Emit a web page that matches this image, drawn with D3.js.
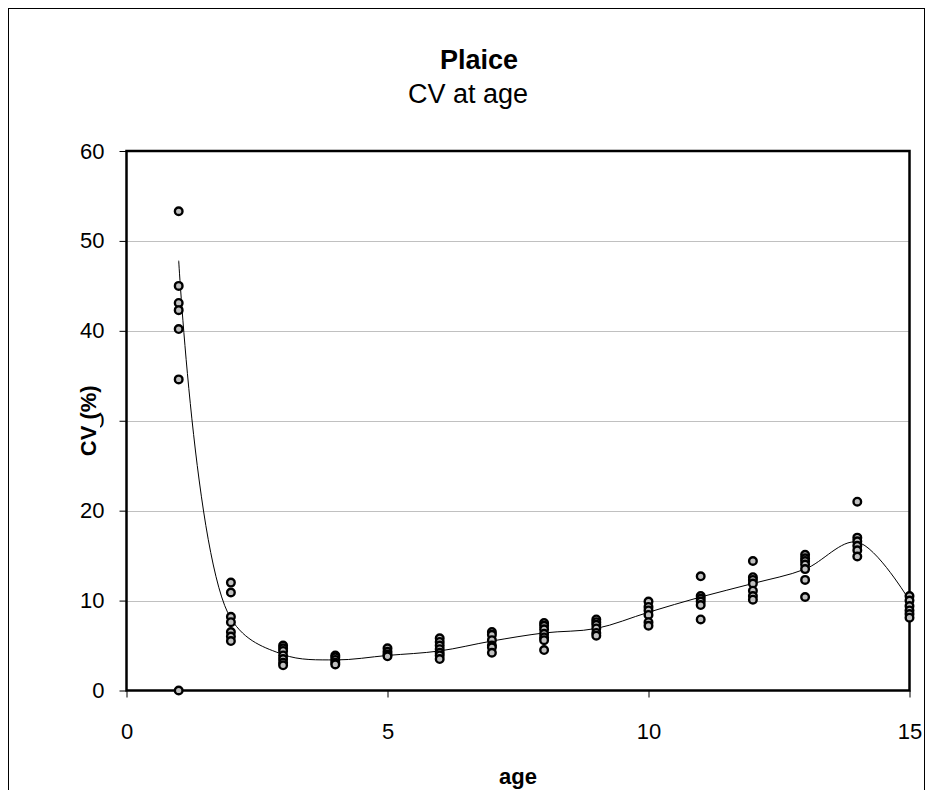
<!DOCTYPE html>
<html>
<head>
<meta charset="utf-8">
<script src="https://cdn.jsdelivr.net/npm/d3@7"></script>
<style>
  html, body { margin: 0; padding: 0; background: #fff; }
  svg { display: block; font-family: "Liberation Sans", Arial, sans-serif; }
</style>
</head>
<body>
<svg id="chart" width="935" height="790"></svg>
<script>
// Observed CV (%) per age sample
const ages = [1, 2, 3, 4, 5, 6, 7, 8, 9, 10, 11, 12, 13, 14, 15];
const cvByAge = [
  [53.3, 45.0, 43.1, 42.3, 40.2, 34.6, 0.0],
  [12.0, 10.9, 8.2, 7.6, 6.5, 6.0, 5.5],
  [5.0, 4.7, 4.4, 3.9, 3.5, 3.1, 2.8],
  [3.9, 3.7, 3.4, 3.1, 2.9],
  [4.7, 4.3, 4.0, 3.8],
  [5.8, 5.4, 5.0, 4.6, 4.2, 3.9, 3.5],
  [6.5, 6.2, 5.6, 5.0, 4.8, 4.2],
  [7.5, 7.2, 6.8, 6.3, 5.9, 5.6, 4.5],
  [7.9, 7.6, 7.3, 6.9, 6.4, 6.1],
  [9.9, 9.3, 8.9, 8.4, 7.6, 7.2],
  [12.7, 10.5, 10.2, 9.9, 9.5, 7.9],
  [14.4, 12.6, 12.3, 11.9, 11.1, 10.5, 10.1],
  [15.1, 14.7, 14.4, 14.0, 13.5, 12.3, 10.4],
  [21.0, 17.0, 16.6, 16.1, 15.6, 14.9],
  [10.5, 10.0, 9.4, 8.9, 8.5, 8.1]
];
// Smoothed CV trend per age
const trendCv = [47.8, 8.0, 4.0, 3.4, 3.9, 4.4, 5.5, 6.4, 6.9, 8.7, 10.4, 11.9, 13.5, 16.5, 10.0];

const xTicks = [0, 5, 10, 15];
const yTicks = [0, 10, 20, 30, 40, 50, 60];

const svg = d3.select("#chart");

// outer chart frame
svg.append("rect")
  .attr("x", 8.5).attr("y", 8.5)
  .attr("width", 916).attr("height", 800)
  .attr("fill", "#fff").attr("stroke", "#000").attr("stroke-width", 1);

const plot = { left: 126.5, right: 909.5, top: 151, bottom: 690.5 };
const x = d3.scaleLinear().domain([0, 15]).range([plot.left, plot.right]);
const y = d3.scaleLinear().domain([0, 60]).range([plot.bottom, plot.top]);

// horizontal gridlines
svg.append("g")
  .selectAll("line")
  .data(yTicks.filter(t => t > 0 && t < 60))
  .join("line")
  .attr("x1", plot.left).attr("x2", plot.right)
  .attr("y1", d => Math.round(y(d)) + 0.5).attr("y2", d => Math.round(y(d)) + 0.5)
  .attr("stroke", "#c0c0c0").attr("stroke-width", 1);

// axes
const yAxis = svg.append("g")
  .attr("transform", `translate(${plot.left},0)`)
  .call(d3.axisLeft(y).tickValues(yTicks).tickSize(7).tickPadding(15).tickFormat(d3.format("d")));
const xAxis = svg.append("g")
  .attr("transform", `translate(0,${plot.bottom})`)
  .call(d3.axisBottom(x).tickValues(xTicks).tickSize(7).tickPadding(26).tickFormat(d3.format("d")));

[yAxis, xAxis].forEach(g => {
  g.select(".domain").remove();
  g.selectAll(".tick line").attr("stroke", "#000").attr("stroke-width", 1);
  g.selectAll(".tick text").attr("fill", "#000")
    .style("font-size", "22px").style("font-family", "'Liberation Sans', Arial, sans-serif");
});

// plot border
svg.append("rect")
  .attr("x", plot.left).attr("y", plot.top)
  .attr("width", plot.right - plot.left).attr("height", plot.bottom - plot.top)
  .attr("fill", "none").attr("stroke", "#000").attr("stroke-width", 2.5);

// smoothed trend line
const line = d3.line()
  .x((d, i) => x(ages[i]))
  .y(d => y(d))
  .curve(d3.curveCatmullRom.alpha(0.5));
svg.append("path")
  .datum(trendCv)
  .attr("d", line)
  .attr("fill", "none").attr("stroke", "#000").attr("stroke-width", 1);

// sample points
const pts = [];
ages.forEach((a, i) => cvByAge[i].forEach(v => pts.push({ age: a, cv: v })));
svg.append("g")
  .selectAll("circle")
  .data(pts)
  .join("circle")
  .attr("cx", d => x(d.age)).attr("cy", d => y(d.cv))
  .attr("r", 3.8)
  .attr("fill", "#c0c0c0").attr("stroke", "#000").attr("stroke-width", 2.4);

// titles
svg.append("text")
  .attr("x", 479).attr("y", 69)
  .attr("text-anchor", "middle")
  .style("font-size", "27px").style("font-weight", "bold")
  .text("Plaice");
svg.append("text")
  .attr("x", 468).attr("y", 103)
  .attr("text-anchor", "middle")
  .style("font-size", "27px")
  .text("CV at age");

// y-axis title sits in a white box over the tick label column
const yMid = (plot.top + plot.bottom) / 2;
svg.append("rect")
  .attr("x", 78).attr("y", yMid - 38)
  .attr("width", 22).attr("height", 76)
  .attr("fill", "#fff");
svg.append("text")
  .attr("transform", `translate(96,${yMid}) rotate(-90)`)
  .attr("text-anchor", "middle")
  .style("font-size", "22px").style("font-weight", "bold")
  .text("CV (%)");
svg.append("text")
  .attr("x", (plot.left + plot.right) / 2).attr("y", 784)
  .attr("text-anchor", "middle")
  .style("font-size", "22px").style("font-weight", "bold")
  .text("age");
</script>
</body>
</html>
